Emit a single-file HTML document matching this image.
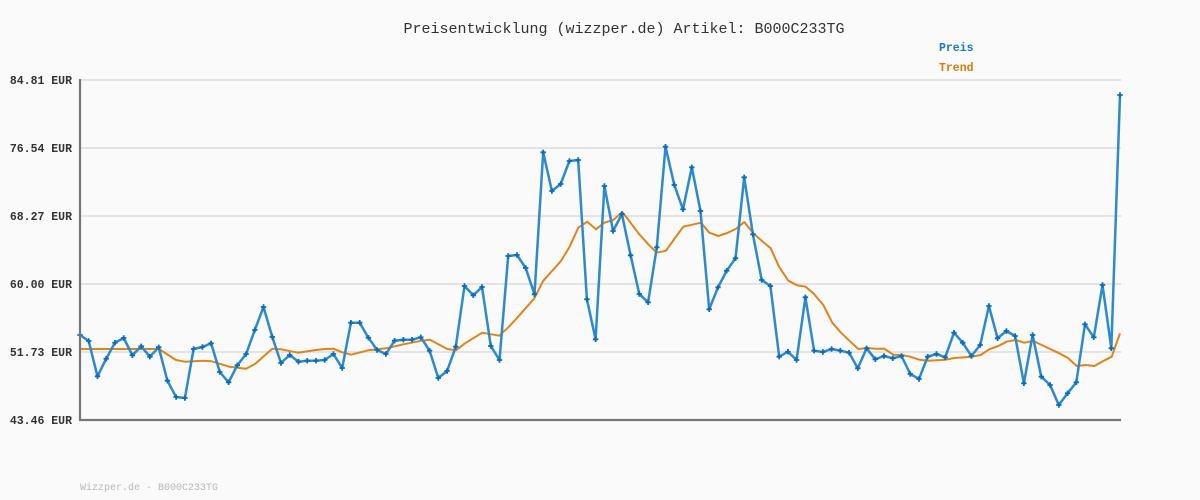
<!DOCTYPE html>
<html>
<head>
<meta charset="utf-8">
<style>
html,body{margin:0;padding:0;background:#fafafa;}
svg{display:block;}
text{font-family:"Liberation Mono","DejaVu Sans Mono",monospace;}
</style>
</head>
<body>
<svg width="1200" height="500" viewBox="0 0 1200 500" xmlns="http://www.w3.org/2000/svg">
<defs>
<marker id="m" markerUnits="userSpaceOnUse" markerWidth="8" markerHeight="8" refX="4" refY="4" viewBox="0 0 8 8">
<path d="M1.3 4 H6.7 M4 1.3 V6.7" stroke="#0b6db5" stroke-width="1.8" fill="none"/>
</marker>
</defs>
<rect width="1200" height="500" fill="#fafafa"/>
<text x="624" y="33" font-size="15" fill="#333" text-anchor="middle">Preisentwicklung (wizzper.de) Artikel: B000C233TG</text>
<text x="939" y="51" font-size="11.5" font-weight="bold" fill="#1a7ac6">Preis</text>
<text x="939" y="71" font-size="11.5" font-weight="bold" fill="#df7a0a">Trend</text>
<g stroke="#e4e4e4" stroke-width="2">
<line x1="80" y1="80" x2="1121" y2="80"/>
<line x1="80" y1="148" x2="1121" y2="148"/>
<line x1="80" y1="216" x2="1121" y2="216"/>
<line x1="80" y1="284" x2="1121" y2="284"/>
<line x1="80" y1="352" x2="1121" y2="352"/>
</g>
<g font-size="11.5" font-weight="bold" fill="#333" text-anchor="end">
<text x="72" y="84">84.81 EUR</text>
<text x="72" y="152">76.54 EUR</text>
<text x="72" y="220">68.27 EUR</text>
<text x="72" y="288">60.00 EUR</text>
<text x="72" y="356">51.73 EUR</text>
<text x="72" y="424">43.46 EUR</text>
</g>
<polyline fill="none" stroke="#e0841a" stroke-width="2" stroke-linejoin="round" points="80,349 159,349 176,360 185,361.7 202.7,360.7 211.7,361.3 229.3,366.7 246,368.7 255,364 272.3,348.7 281,349.3 298,352.7 316,350 325,349 333.3,348.7 342.3,352.3 351,354.7 368.3,350.3 386.3,348.3 403.3,344.3 421.7,340.7 430,339.7 447.3,349 456,350.3 465,343.3 482.3,332.7 499.3,335.7 508.3,327.3 517.3,317.7 534.3,298.3 543.3,280.7 561,261 569.3,247.3 578.3,227.7 587.3,221.7 596,229.3 604.3,222.7 613.3,220 622.3,212 631,223.3 639.3,234.3 648.3,244.3 656.7,252.7 666,250.7 674.3,239 683.3,226.7 701,222.7 709.3,232.7 718.3,236 727.3,233 735.7,229 744.3,222 753.3,233.3 762,241 770.7,248.3 779,266.7 788.3,280.7 797.3,285.3 805.7,286.7 814,294 823.3,305 832.3,322.7 840.7,332.3 849.3,340.7 858.3,349 867.3,348 875.7,348.7 884.3,348.7 893.3,354.7 901.7,355 910,356.7 919.3,359.7 928.3,360.7 945.7,359.7 954.3,358 971.7,356.7 980.7,355 989.3,349.3 998.3,346 1006.7,341.7 1015.7,340 1024.3,342.7 1033.3,341 1041.7,345 1059.3,353.3 1068.3,358.3 1076.7,366 1085.7,365 1094.3,366 1103.3,361 1111.7,356.7 1120,333.3"/>
<polyline fill="none" stroke="#2b8ad0" stroke-width="2.5" stroke-linejoin="round" marker-start="url(#m)" marker-mid="url(#m)" marker-end="url(#m)" points="80,335 88.7,341 97.5,376.3 106.2,358.7 115,342.7 123.7,338 132.4,355.3 141.2,346.3 149.9,356.7 158.7,347.3 167.4,380.7 176.1,397 184.9,398 193.6,349 202.4,347 211.1,343.3 219.8,372 228.6,382.3 237.3,365.3 246.1,354 254.8,330 263.5,307 272.3,337 281,363 289.7,355 298.5,361.7 307.2,360.7 316,360.7 324.7,360 333.4,354 342.2,368 350.9,322.7 359.7,322.7 368.4,337.7 377.1,350 385.9,354 394.6,340.7 403.4,339.7 412.1,339.7 420.8,337.3 429.6,350.7 438.3,378 447.1,371 455.8,346.7 464.5,286 473.3,295.3 482,287 490.8,346 499.5,360 508.2,256 517,255 525.7,268 534.5,294.3 543.2,152.3 551.9,191 560.7,184 569.4,161 578.2,160 586.9,299.3 595.6,339.3 604.4,186 613.1,231 621.9,214 630.6,255.3 639.3,294 648.1,302.3 656.8,247.3 665.5,146.7 674.3,185 683,209.3 691.8,167.3 700.5,211 709.2,309.3 718,287.3 726.7,270.7 735.5,258.3 744.2,177.3 752.9,234.3 761.7,280 770.4,286 779.2,356.7 787.9,351.7 796.6,360 805.4,297.3 814.1,350.7 822.9,352 831.6,349 840.3,350.7 849.1,352.7 857.8,368.3 866.6,348.3 875.3,359.3 884,356 892.8,358.3 901.5,356 910.3,374 919,379 927.7,356.7 936.5,354 945.2,357.3 954,332.7 962.7,342.7 971.4,356 980.2,345 988.9,306 997.6,338.3 1006.4,331 1015.1,336 1023.9,383.3 1032.6,335 1041.3,376.7 1050.1,385 1058.8,405 1067.6,393.3 1076.3,382.3 1085,324.3 1093.8,337.3 1102.5,285 1111.3,348.3 1120,95"/>
<g stroke="#777" stroke-width="2.2">
<line x1="80" y1="79" x2="80" y2="421"/>
<line x1="79" y1="420" x2="1121" y2="420"/>
</g>
<text x="80" y="490" font-size="10" fill="#b8b8b8">Wizzper.de - B000C233TG</text>
</svg>
</body>
</html>
